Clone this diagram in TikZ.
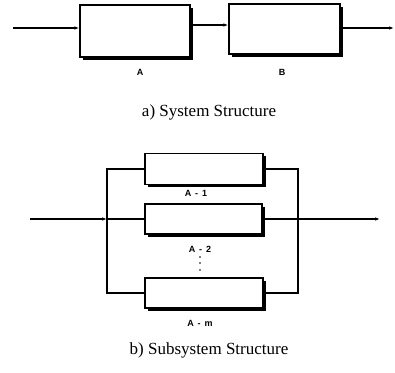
\documentclass[tikz,border=0pt]{standalone}
\usepackage{fontspec}
\setmainfont{Liberation Serif}
\newfontfamily\lblfont{Liberation Sans}
\usetikzlibrary{shadows,arrows.meta}
\tikzset{
  blk/.style={draw=black, line width=1.3pt, fill=white, inner sep=0pt,
    drop shadow={shadow xshift=2.6pt, shadow yshift=-2.6pt, fill=black, opacity=1}},
  conn/.style={line width=1.1pt},
  arrowtip/.style={-{Latex[length=5pt,width=3.5pt]}},
  lbl/.style={font=\lblfont\bfseries\fontsize{9}{10}\selectfont, inner sep=0pt},
  captext/.style={font=\fontsize{17}{19}\selectfont, inner sep=0pt},
  dotmark/.style={fill=black, circle, inner sep=0pt, minimum size=1.6pt}
}
\newcommand{\gap}{\hspace{4pt}}
\begin{document}
\begin{tikzpicture}[x=1pt,y=-1pt]
\useasboundingbox (0,0) rectangle (395,372);
% top system
\node[blk, minimum width=110pt, minimum height=52pt] (A) at (135,31) {};
\node[blk, minimum width=111pt, minimum height=50pt] (B) at (284.5,29) {};
\coordinate (in) at (13,28);
\coordinate (out) at (394,28);
\draw[conn,arrowtip] (in) -- (in -| A.west);
\draw[conn,arrowtip] (A.east |- 0,25) -- (B.west |- 0,25);
\draw[conn,arrowtip] (B.east |- out) -- (out);
\node[lbl] (la) at (140,72) {A};
\node[lbl] (lb) at (282,72) {B};
\node[captext] (capa) at (209,112) {a) System Structure};
% subsystem
\node[blk, minimum width=118pt, minimum height=31pt] (A1) at (204,169) {};
\node[blk, minimum width=117pt, minimum height=30pt] (A2) at (203.5,219) {};
\node[blk, minimum width=118pt, minimum height=30pt] (Am) at (204,293) {};
\coordinate (lt) at (107,169);
\coordinate (lb2) at (107,293);
\coordinate (rt) at (298,169);
\coordinate (rb) at (298,293);
\coordinate (sin) at (30,219);
\coordinate (sout) at (380,219);
\coordinate (lj) at (107,219);
\coordinate (rj) at (298,219);
\draw[conn] (A1.west) -- (lt) -- (lb2) -- (Am.west);
\draw[conn] (A1.east) -- (rt) -- (rb) -- (Am.east);
\draw[conn,arrowtip] (sin) -- (lj);
\draw[conn] (lj) -- (A2.west);
\draw[conn] (A2.east) -- (rj);
\draw[conn,arrowtip] (rj) -- (sout);
\node[lbl] (l1) at (196,193) {A\gap-\gap1};
\node[lbl] (l2) at (200,249) {A\gap-\gap2};
\node[lbl] (lm) at (200,323) {A\gap-\gap m};
\node[dotmark] (d1) at (200,257) {};
\node[dotmark] (d2) at (200,263) {};
\node[dotmark] (d3) at (200,270) {};
\node[captext] (capb) at (209,350) {b) Subsystem Structure};
\end{tikzpicture}
\end{document}
